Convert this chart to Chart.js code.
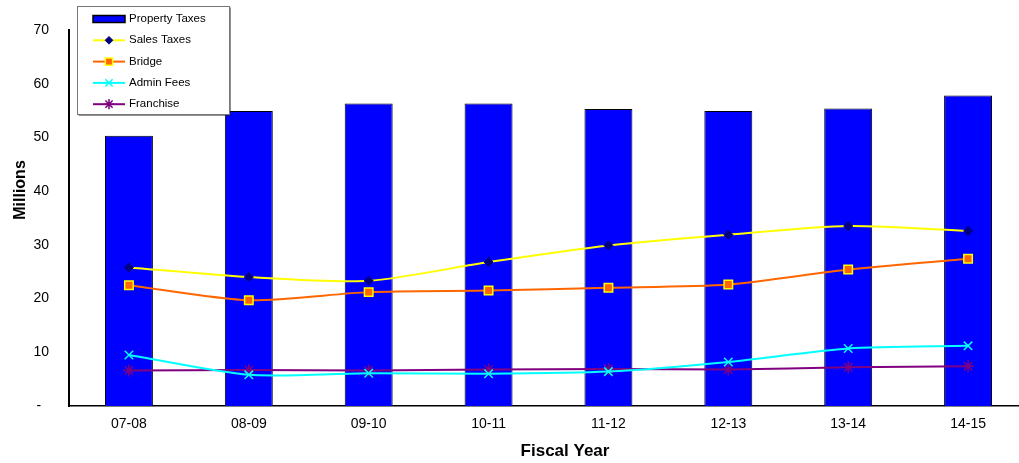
<!DOCTYPE html>
<html>
<head>
<meta charset="utf-8">
<title>Revenue by Fiscal Year</title>
<script src="https://cdn.jsdelivr.net/npm/chart.js@4/dist/chart.umd.min.js"></script>
<style>
  html, body { margin: 0; padding: 0; background: #fff; overflow: hidden; }
  #wrap { position: relative; width: 1040px; height: 463px; }
</style>
</head>
<body>
<div id="wrap"><canvas id="revenueChart"></canvas></div>
<script>
// values in millions
const fiscalYears   = ['07-08', '08-09', '09-10', '10-11', '11-12', '12-13', '13-14', '14-15'];
const propertyTaxes = [50.3, 54.9, 56.3, 56.3, 55.3, 54.9, 55.4, 57.8];
const salesTaxes    = [25.8, 24.0, 23.3, 26.8, 29.9, 31.9, 33.5, 32.6];
const bridge        = [22.5, 19.7, 21.2, 21.5, 22.0, 22.6, 25.4, 27.4];
const adminFees     = [9.5, 5.8, 6.1, 6.0, 6.4, 8.2, 10.7, 11.2];
const franchise     = [6.6, 6.7, 6.6, 6.8, 6.9, 6.8, 7.2, 7.4];
const yTickLabels   = ['-  ', '10', '20', '30', '40', '50', '60', '70'];

const FONT = 'Arial, "Liberation Sans", sans-serif';

function lineSet(label, data, color, style, radius, fill, border, bw) {
  return {
    type: 'line', label, data,
    borderColor: color, borderWidth: 2, tension: 0.25,
    pointStyle: style, pointRadius: radius,
    pointBackgroundColor: fill, pointBorderColor: border, pointBorderWidth: bw,
    order: 0
  };
}

// boxed legend sitting inside the plot, top left
const boxLegend = {
  id: 'boxLegend',
  afterDraw(chart) {
    const ctx = chart.ctx;
    const x0 = 77, y0 = 6, w = 152, h = 108;
    ctx.save();
    ctx.fillStyle = '#222';
    ctx.fillRect(x0 + 1.5, y0 + 1.5, w, h);
    ctx.fillStyle = '#fff';
    ctx.fillRect(x0, y0, w, h);
    ctx.strokeStyle = '#777';
    ctx.lineWidth = 1;
    ctx.strokeRect(x0 + 0.5, y0 + 0.5, w, h);

    chart.data.datasets.forEach((ds, i) => {
      const y = 19 + i * 21.3;
      if (ds.type === 'bar') {
        ctx.fillStyle = ds.backgroundColor;
        ctx.fillRect(93, y - 3.5, 32, 7);
        ctx.strokeStyle = '#000';
        ctx.lineWidth = 1.5;
        ctx.strokeRect(93, y - 3.5, 32, 7);
      } else {
        ctx.strokeStyle = ds.borderColor;
        ctx.lineWidth = 2;
        ctx.beginPath();
        ctx.moveTo(93, y);
        ctx.lineTo(125, y);
        ctx.stroke();
        ctx.fillStyle = ds.pointBackgroundColor;
        ctx.strokeStyle = ds.pointBorderColor;
        ctx.lineWidth = ds.pointBorderWidth;
        Chart.helpers.drawPoint(ctx, {
          pointStyle: ds.pointStyle, radius: ds.pointRadius * 0.85,
          borderWidth: ds.pointBorderWidth, rotation: 0
        }, 109, y);
      }
      ctx.fillStyle = '#000';
      ctx.font = '11.5px ' + FONT;
      ctx.textAlign = 'left';
      ctx.textBaseline = 'middle';
      ctx.fillText(ds.label, 129, y);
    });
    ctx.restore();
  }
};

// axis titles
const axisTitles = {
  id: 'axisTitles',
  afterDraw(chart) {
    const ctx = chart.ctx;
    ctx.save();
    ctx.fillStyle = '#000';
    ctx.font = 'bold 17px ' + FONT;
    ctx.textAlign = 'center';
    ctx.textBaseline = 'alphabetic';
    ctx.fillText('Fiscal Year', 565, 456);
    ctx.translate(25, 190);
    ctx.rotate(-Math.PI / 2);
    ctx.font = 'bold 16px ' + FONT;
    ctx.fillText('Millions', 0, 0);
    ctx.restore();
  }
};

new Chart(document.getElementById('revenueChart'), {
  data: {
    labels: fiscalYears,
    datasets: [
      {
        type: 'bar', label: 'Property Taxes', data: propertyTaxes,
        backgroundColor: '#0000FF', borderColor: '#000', borderWidth: 1,
        barPercentage: 0.4, categoryPercentage: 1.0, order: 1
      },
      lineSet('Sales Taxes', salesTaxes, '#FFFF00', 'rectRot', 4.5, '#000080', '#000080', 1),
      lineSet('Bridge', bridge, '#FF6600', 'rect', 6, '#FF6600', '#FFFF00', 1.5),
      lineSet('Admin Fees', adminFees, '#00FFFF', 'crossRot', 6, '#00FFFF', '#00FFFF', 1.5),
      lineSet('Franchise', franchise, '#800080', 'star', 6, '#800080', '#800080', 1.5)
    ]
  },
  options: {
    responsive: true, maintainAspectRatio: false,
    animation: false, events: [],
    layout: { padding: { left: 0, top: 30, right: 12, bottom: 0 } },
    plugins: { legend: { display: false }, tooltip: { enabled: false } },
    scales: {
      x: {
        offset: true,
        grid: { display: false, drawTicks: false },
        border: { display: true, color: '#000', width: 1.5 },
        ticks: { color: '#000', font: { family: FONT, size: 14 }, padding: 10, maxRotation: 0 },
        afterFit: s => { s.height = 57; }
      },
      y: {
        min: 0, max: 70,
        grid: { display: false, drawTicks: false },
        border: { display: true, color: '#000', width: 2 },
        ticks: {
          stepSize: 10, color: '#000', font: { family: FONT, size: 14 }, padding: 20,
          callback: (v, i) => yTickLabels[i]
        },
        afterFit: s => { s.width = 69; }
      }
    }
  },
  plugins: [boxLegend, axisTitles]
});
</script>
</body>
</html>
